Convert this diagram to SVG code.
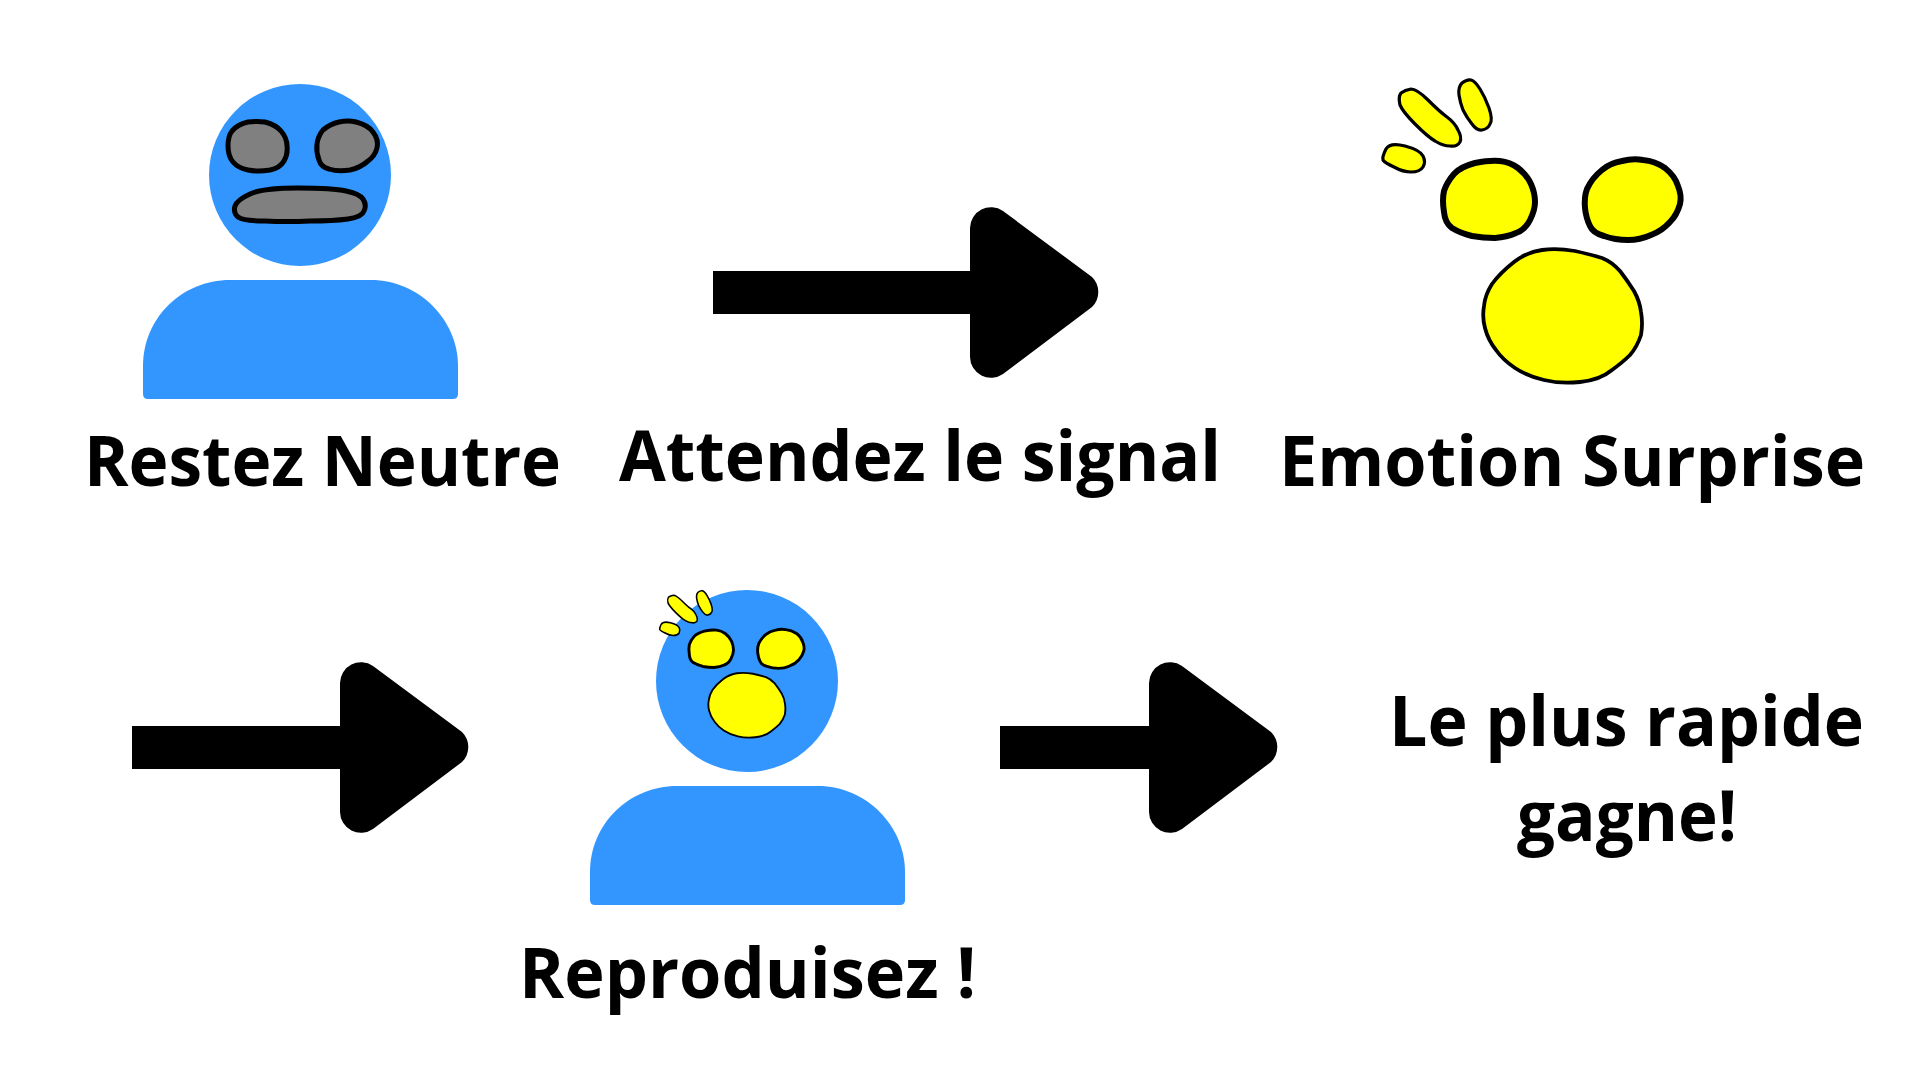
<svg xmlns="http://www.w3.org/2000/svg" width="1920" height="1080" viewBox="0 0 1920 1080">
<style>
.t{font-family:"Open Sans","Noto Sans","Liberation Sans",sans-serif;font-weight:700;font-size:69px;fill:#000;text-anchor:start}
.b{fill:#3396ff}
.g{fill:#808080;stroke:#000;stroke-width:5;stroke-linejoin:round}
.y{fill:#ffff00;stroke:#000;stroke-linejoin:round}
.s1{stroke-width:3.2}
.s2{stroke-width:6}
.s3{stroke-width:3.8}
</style>
<defs>
<path id="arrowHead" d="M970 228A21 21 0 0 1 1003 211L1092 277A21 21 0 0 1 1092 307L1003 374A21 21 0 0 1 970 357Z" fill="#000"/>
<path id="bodyShape" d="M143 366C143 318 182 280 230 280H371C419 280 458 320 458 366V394Q458 399 453 399H148Q143 399 143 394Z"/>
<g id="surpriseMarks">
<path class="y s1" d="M1401 93Q1405 90 1411 89Q1417 89 1428 100Q1440 112 1447 117Q1455 123 1458 130Q1462 137 1460 142Q1457 147 1450 146Q1443 146 1435 141Q1428 137 1415 124Q1403 112 1400 105Q1398 97 1401 93Z"/>
<path class="y s1" d="M1462 83Q1467 79 1471 80Q1475 81 1480 89Q1485 97 1489 108Q1493 120 1490 124Q1488 129 1482 130Q1477 131 1472 124Q1467 118 1463 110Q1460 102 1459 95Q1458 87 1462 83Z"/>
<path class="y s1" d="M1386 149Q1390 142 1405 146Q1420 150 1423 156Q1426 162 1423 167Q1420 172 1411 172Q1403 172 1394 167Q1385 163 1383 160Q1382 157 1386 149Z"/>
<path class="y s2" d="M1500 161Q1510 162 1518 168Q1527 175 1531 184Q1535 193 1535 202Q1535 210 1530 220Q1525 230 1516 233Q1507 237 1495 238Q1483 238 1472 236Q1460 233 1452 228Q1445 223 1444 212Q1442 200 1444 191Q1447 182 1454 174Q1460 167 1475 163Q1490 160 1500 161Z"/>
<path class="y s2" d="M1643 160Q1655 161 1665 168Q1675 176 1678 186Q1682 196 1680 204Q1677 215 1670 222Q1662 231 1651 235Q1640 240 1628 240Q1615 240 1604 236Q1593 233 1590 226Q1586 218 1585 208Q1584 197 1587 189Q1592 178 1602 170Q1610 163 1622 161Q1633 158 1643 160Z"/>
<path class="y s3" d="M1575 251Q1593 255 1602 258Q1612 262 1620 271Q1627 280 1634 291Q1640 302 1641 312Q1643 323 1641 335Q1637 347 1630 355Q1623 362 1612 370Q1600 380 1580 382Q1560 384 1544 380Q1527 376 1515 368Q1503 360 1496 350Q1488 340 1485 328Q1482 317 1484 306Q1485 295 1492 284Q1500 273 1514 262Q1527 252 1542 250Q1557 248 1575 251Z"/>
</g>
</defs>
<rect width="1920" height="1080" fill="#fff"/>
<g id="connectors">
<g id="arrow1"><rect x="713" y="271" width="260" height="43" fill="#000"/><use href="#arrowHead"/></g>
<g id="arrow2"><rect x="132" y="726" width="211" height="43" fill="#000"/><use href="#arrowHead" transform="translate(-630 455)"/></g>
<g id="arrow3"><rect x="1000" y="726" width="152" height="43" fill="#000"/><use href="#arrowHead" transform="translate(179 455)"/></g>
</g>
<g id="neutral">
<circle class="b" cx="300" cy="175" r="91"/>
<use href="#bodyShape" class="b"/>
<path class="g" d="M265 122Q276 125 281 131Q287 138 287 146Q288 154 284 161Q280 168 270 170Q258 172 248 170Q238 168 233 162Q228 156 228 146Q228 136 232 131Q238 124 248 122Q257 121 265 122Z"/>
<path class="g" d="M356 122Q368 125 373 132Q379 140 377 148Q375 156 368 161Q360 168 350 170Q338 172 329 169Q321 167 319 160Q316 152 317 144Q318 136 323 130Q330 124 339 122Q348 120 356 122Z"/>
<path class="g" d="M298 188Q333 188 346 191Q360 194 363 199Q367 205 364 211Q362 217 348 219Q333 221 310 221Q287 222 265 221Q243 221 238 217Q233 213 235 206Q237 200 250 194Q263 188 298 188Z"/>
<text class="t" x="84" y="486" textLength="477" lengthAdjust="spacingAndGlyphs">Restez Neutre</text>
</g>
<g id="signal"><text class="t" x="619" y="481" textLength="602" lengthAdjust="spacingAndGlyphs">Attendez le signal</text></g>
<g id="surprise">
<use href="#surpriseMarks"/>
<text class="t" x="1279" y="486" textLength="586" lengthAdjust="spacingAndGlyphs">Emotion Surprise</text>
</g>
<g id="reproduce">
<circle class="b" cx="747" cy="681" r="91"/>
<use href="#bodyShape" class="b" transform="translate(447 506)"/>
<use href="#surpriseMarks" transform="translate(-11 552) scale(.485)"/>
<text class="t" x="519" y="998" textLength="457" lengthAdjust="spacingAndGlyphs">Reproduisez !</text>
</g>
<g id="winner">
<text class="t" x="1389" y="746" textLength="475" lengthAdjust="spacingAndGlyphs">Le plus rapide</text>
<text class="t" x="1517" y="841" textLength="220" lengthAdjust="spacingAndGlyphs">gagne!</text>
</g>
</svg>
